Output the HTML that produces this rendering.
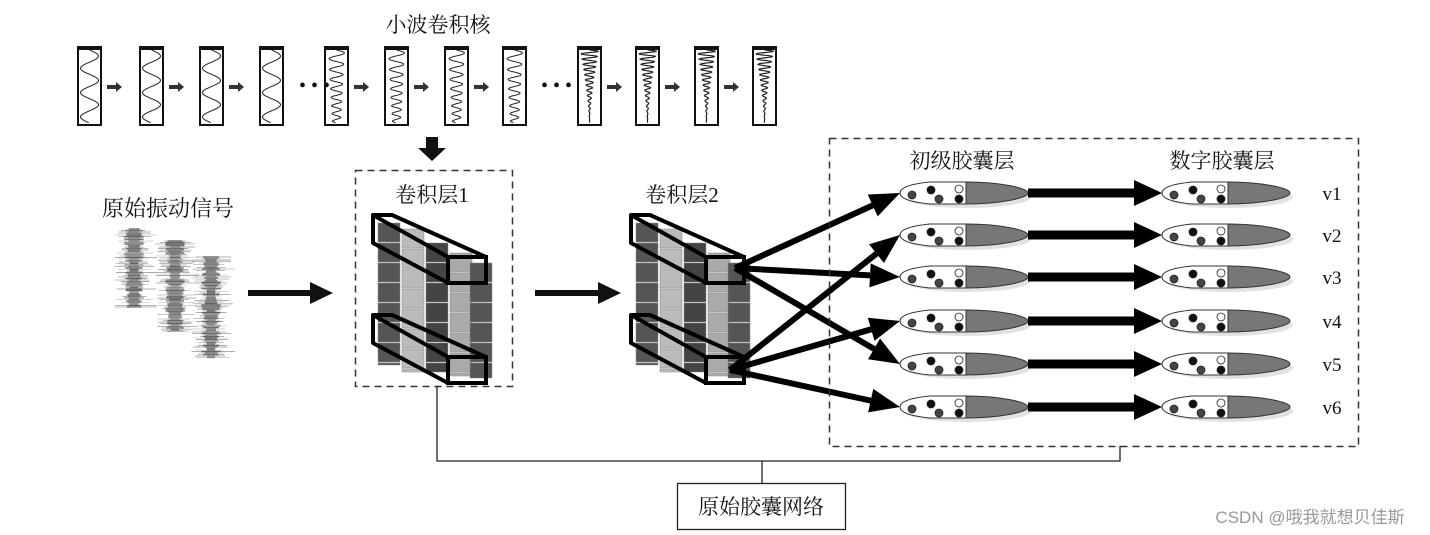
<!DOCTYPE html>
<html><head><meta charset="utf-8"><style>
html,body{margin:0;padding:0;background:#fff;width:1430px;height:535px;overflow:hidden}
svg{display:block}
text{font-family:"Liberation Serif","Noto Serif CJK SC","Noto Sans CJK SC",serif;fill:#111}
</style></head><body>
<svg id="s" width="1430" height="535" viewBox="0 0 1430 535" xmlns="http://www.w3.org/2000/svg">
<g id="kern"></g>
<g id="sig"></g>
<g id="conv"></g>
<g id="caps"></g>
<text x="438" y="32" font-size="21" text-anchor="middle">小波卷积核</text>
<text x="299" y="92" font-size="20">• • •</text>
<text x="541" y="92" font-size="20">• • •</text>
<polygon points="426,137 438,137 438,148 446,148 432,161 418,148 426,148" fill="#111"/>
<rect x="355.5" y="170.5" width="157" height="216" fill="none" stroke="#333" stroke-width="1.5" stroke-dasharray="7,5"/>
<rect x="829.5" y="138.5" width="529" height="308" fill="none" stroke="#333" stroke-width="1.5" stroke-dasharray="7,5"/>
<text x="432" y="202" font-size="21" text-anchor="middle">卷积层1</text>
<text x="682" y="202" font-size="21" text-anchor="middle">卷积层2</text>
<text x="168" y="216" font-size="22" text-anchor="middle">原始振动信号</text>
<text x="962" y="168" font-size="21" text-anchor="middle">初级胶囊层</text>
<text x="1222" y="168" font-size="21" text-anchor="middle">数字胶囊层</text>
<line x1="248" y1="293" x2="312" y2="293" stroke="#111" stroke-width="6"/>
<polygon points="310,282 333,293 310,304" fill="#111"/>
<line x1="535" y1="293" x2="600" y2="293" stroke="#111" stroke-width="6"/>
<polygon points="598,282 621,293 598,304" fill="#111"/>
<polyline points="437,386 437,461 1120,461 1120,446" fill="none" stroke="#222" stroke-width="1.3"/>
<line x1="762" y1="461" x2="762" y2="483" stroke="#222" stroke-width="1.3"/>
<rect x="677.5" y="483.5" width="168" height="46" fill="#fff" stroke="#222" stroke-width="1.3"/>
<text x="761" y="514" font-size="21" text-anchor="middle">原始胶囊网络</text>
<text x="1310" y="523" font-size="17" text-anchor="middle" style="font-family:'Liberation Sans','Noto Sans CJK SC',sans-serif;fill:#999">CSDN @哦我就想贝佳斯</text>
</svg>
<script>
const NS="http://www.w3.org/2000/svg";
function el(p,t,a){const e=document.createElementNS(NS,t);for(const k in a)e.setAttribute(k,a[k]);p.appendChild(e);return e;}
let seed=7;function rnd(){seed=(seed*16807)%2147483647;return seed/2147483647;}
const kx=[78,140,200,260,325,385,445,503,578,636,695,753];
const K=document.getElementById('kern');
kx.forEach((x,i)=>{
  el(K,'rect',{x:x,y:48,width:23,height:77,fill:'#fff',stroke:'#111','stroke-width':2});
  el(K,'rect',{x:x-1,y:46,width:25,height:4,fill:'#111'});
  let grp=i<4?0:(i<8?1:2);
  let d='';
  for(let t=0;t<=1;t+=0.004){
    let y=50+t*73, f,amp;
    if(grp==0){f=3;amp=9;}
    else if(grp==1){f=6+t*2;amp=8*(1-0.5*t);}
    else{f=14;amp=9*Math.pow(1-t,1.5);}
    let xx=x+11.5+amp*Math.sin(2*Math.PI*f*t);
    d+=(d?'L':'M')+xx.toFixed(1)+','+y.toFixed(1);
  }
  el(K,'path',{d:d,fill:'none',stroke:'#222','stroke-width':grp==2?1.2:1});
  if(i<11 && i!=3 && i!=7){
    let ax=x+29;
    el(K,'line',{x1:ax,y1:87,x2:ax+10,y2:87,stroke:'#333','stroke-width':4});
    el(K,'polygon',{points:`${ax+9},82 ${ax+15},87 ${ax+9},92`,fill:'#333'});
  }
});
const S=document.getElementById('sig');
[[134,229,308],[175,241,331],[211,257,358]].forEach(([cx,y0,y1])=>{
  for(let y=y0;y<=y1;y+=1.5){
    let w=5+rnd()*15;
    el(S,'line',{x1:cx-w,y1:y,x2:cx+w*(0.7+rnd()*0.6),y2:y,stroke:'#777','stroke-width':1,opacity:0.25+rnd()*0.4});
    let w2=4+rnd()*6;
    el(S,'line',{x1:cx-w2,y1:y,x2:cx+w2,y2:y,stroke:'#555','stroke-width':1.5,opacity:0.5+rnd()*0.4});
  }
});
const C=document.getElementById('conv');
function conv(ox,oy){
  const cols=[[0,8,142,'#555'],[24,14,143,'#bbb'],[48,28,129,'#444'],[72,38,123,'#aaa'],[92,48,115,'#555']];
  cols.forEach(([dx,dy,h,c])=>{
    for(let j=0;j*20<h;j++){
      let hh=Math.min(19,h-j*20);
      el(C,'rect',{x:ox+dx,y:oy+dy+j*20,width:22,height:hh,fill:c,stroke:'#888','stroke-width':0.5});
    }
  });
  [0,100].forEach(b=>{
    const y=oy+b;
    el(C,'polygon',{points:`${ox-5},${y} ${ox+14},${y} ${ox+108},${y+42} ${ox+108},${y+68} ${ox+70},${y+68} ${ox-5},${y+28}`,fill:'none',stroke:'#000','stroke-width':4,'stroke-linejoin':'round'});
    el(C,'line',{x1:ox-5,y1:y,x2:ox+70,y2:y+42,stroke:'#000','stroke-width':4});
    el(C,'rect',{x:ox+70,y:y+42,width:38,height:26,fill:'none',stroke:'#000','stroke-width':4});
  });
}
conv(378,215);
conv(636,215);
const P=document.getElementById('caps');
const ys=[193,235,277,321,364,407];
function cap(x,y){
  el(P,'ellipse',{cx:x+67,cy:y+4,rx:64,ry:11,fill:'#e2e2e2'});
  el(P,'path',{d:`M${x+66},${y-11} L${x+66},${y+11} L${x+30},${y+11} Q${x},${y+8} ${x},${y} Q${x},${y-8} ${x+30},${y-11} Z`,fill:'#fff',stroke:'#333','stroke-width':1});
  el(P,'path',{d:`M${x+66},${y-11} C${x+100},${y-11} ${x+128},${y-5} ${x+128},${y} C${x+128},${y+5} ${x+100},${y+11} ${x+66},${y+11} Z`,fill:'#777',stroke:'#333','stroke-width':1});
  [[12,2,'#444'],[31,-3,'#111'],[39,6,'#444'],[59,-4,'#fff'],[59,6,'#111']].forEach(([dx,dy,c])=>el(P,'circle',{cx:x+dx,cy:y+dy,r:4,fill:c,stroke:'#222','stroke-width':0.8}));
}
ys.forEach((y,i)=>{
  cap(900,y); cap(1162,y);
  el(P,'line',{x1:1028,y1:y,x2:1138,y2:y,stroke:'#000','stroke-width':9});
  el(P,'polygon',{points:`1134,${y-13} 1162,${y} 1134,${y+13}`,fill:'#000'});
  const t=el(P,'text',{x:1332,y:y+7,'font-size':19,'text-anchor':'middle'});t.textContent='v'+(i+1);
  const sx=i%2==0?735:730, sy=i%2==0?268:370;
  const dx=900-sx, dy=y-sy, L=Math.hypot(dx,dy), ux=dx/L, uy=dy/L;
  const bx=900-ux*30, by=y-uy*30;
  el(P,'line',{x1:sx,y1:sy,x2:bx,y2:by,stroke:'#000','stroke-width':6});
  el(P,'polygon',{points:`900,${y} ${bx-uy*12},${by+ux*12} ${bx+uy*12},${by-ux*12}`,fill:'#000'});
});
</script>
</body></html>
